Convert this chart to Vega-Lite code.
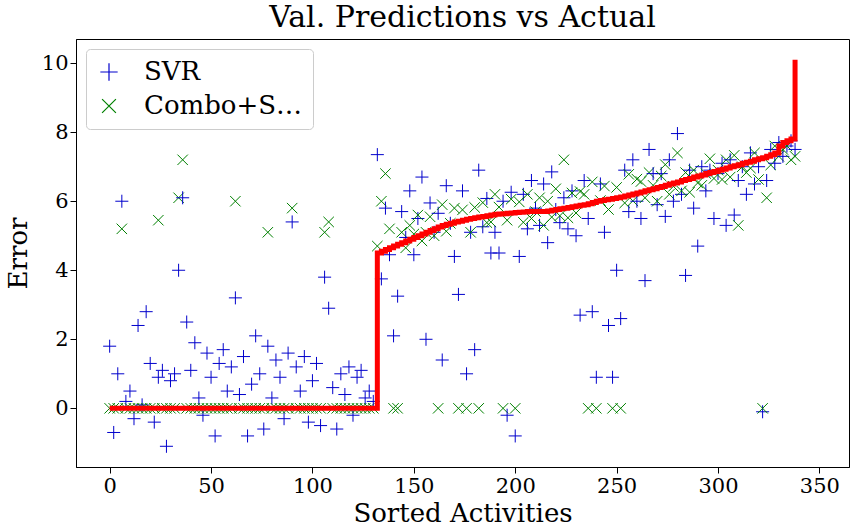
{"$schema":"https://vega.github.io/schema/vega-lite/v6.json","width":861,"height":529,"autosize":{"type":"fit","contains":"padding"},"padding":{"left":5,"right":12,"top":3,"bottom":3},"background":"white","title":{"text":"Val. Predictions vs Actual","font":"DejaVu Serif","fontSize":30,"fontWeight":"normal","color":"black","offset":6},"config":{"font":"DejaVu Serif","view":{"stroke":"black"},"axis":{"grid":false,"domainColor":"black","tickColor":"black","labelFont":"DejaVu Serif","titleFont":"DejaVu Serif","labelFontSize":21,"titleFontSize":26,"titleFontWeight":"normal","labelColor":"black","titleColor":"black","tickSize":6}},
"data":{"values":[
{"x":0,"a":0,"s":1.8,"c":0},{"x":2,"a":0,"s":-0.7,"c":0},{"x":4,"a":0,"s":1.0,"c":0},{"x":6,"a":0,"s":6.0,"c":5.2},{"x":8,"a":0,"s":0.2,"c":0},{"x":10,"a":0,"s":0.5,"c":0},{"x":12,"a":0,"s":-0.3,"c":0},{"x":14,"a":0,"s":2.4,"c":0},{"x":16,"a":0,"s":0.1,"c":0},{"x":18,"a":0,"s":2.8,"c":0},{"x":20,"a":0,"s":1.3,"c":0},{"x":22,"a":0,"s":-0.4,"c":0},{"x":24,"a":0,"s":0.9,"c":5.45},{"x":26,"a":0,"s":1.1,"c":0},{"x":28,"a":0,"s":-1.1,"c":0},{"x":30,"a":0,"s":0.8,"c":0},{"x":32,"a":0,"s":1.0,"c":0},{"x":34,"a":0,"s":4.0,"c":6.1},{"x":36,"a":0,"s":6.1,"c":7.2},{"x":38,"a":0,"s":2.5,"c":0},{"x":40,"a":0,"s":1.1,"c":0},{"x":42,"a":0,"s":1.9,"c":0},{"x":44,"a":0,"s":0.3,"c":0},{"x":46,"a":0,"s":-0.2,"c":0},{"x":48,"a":0,"s":1.6,"c":0},{"x":50,"a":0,"s":0.9,"c":0},{"x":52,"a":0,"s":-0.8,"c":0},{"x":54,"a":0,"s":1.3,"c":0},{"x":56,"a":0,"s":1.7,"c":0},{"x":58,"a":0,"s":0.5,"c":0},{"x":60,"a":0,"s":1.2,"c":0},{"x":62,"a":0,"s":3.2,"c":6.0},{"x":64,"a":0,"s":0.4,"c":0},{"x":66,"a":0,"s":1.5,"c":0},{"x":68,"a":0,"s":-0.8,"c":0},{"x":70,"a":0,"s":0.7,"c":0},{"x":72,"a":0,"s":2.1,"c":0},{"x":74,"a":0,"s":1.0,"c":0},{"x":76,"a":0,"s":-0.6,"c":0},{"x":78,"a":0,"s":1.8,"c":5.1},{"x":80,"a":0,"s":0.3,"c":0},{"x":82,"a":0,"s":1.4,"c":0},{"x":84,"a":0,"s":0.9,"c":0},{"x":86,"a":0,"s":-0.3,"c":0},{"x":88,"a":0,"s":1.6,"c":0},{"x":90,"a":0,"s":5.4,"c":5.8},{"x":92,"a":0,"s":1.2,"c":0},{"x":94,"a":0,"s":0.5,"c":0},{"x":96,"a":0,"s":1.5,"c":0},{"x":98,"a":0,"s":-0.4,"c":0},{"x":100,"a":0,"s":0.8,"c":0},{"x":102,"a":0,"s":1.3,"c":0},{"x":104,"a":0,"s":-0.5,"c":0},{"x":106,"a":0,"s":3.8,"c":5.1},{"x":108,"a":0,"s":2.9,"c":5.4},{"x":110,"a":0,"s":0.6,"c":0},{"x":112,"a":0,"s":-0.6,"c":0},{"x":114,"a":0,"s":1.0,"c":0},{"x":116,"a":0,"s":0.4,"c":0},{"x":118,"a":0,"s":1.2,"c":0},{"x":120,"a":0,"s":-0.2,"c":0},{"x":122,"a":0,"s":0.9,"c":0},{"x":124,"a":0,"s":1.1,"c":0},{"x":126,"a":0,"s":0.3,"c":0},{"x":128,"a":0,"s":0.5,"c":0},{"x":130,"a":0,"s":0.2,"c":0},
{"x":132,"a":4.5,"s":7.35,"c":4.7},{"x":134,"a":4.55,"s":3.75,"c":6.0},{"x":136,"a":4.6,"s":5.8,"c":6.8},{"x":138,"a":4.65,"s":4.45,"c":5.2},{"x":140,"a":4.7,"s":2.1,"c":0},{"x":142,"a":4.75,"s":3.25,"c":0},{"x":144,"a":4.8,"s":5.7,"c":5.1},{"x":146,"a":4.85,"s":4.95,"c":4.65},{"x":148,"a":4.9,"s":6.3,"c":5.3},{"x":150,"a":4.95,"s":4.45,"c":5.05},{"x":152,"a":5.0,"s":5.5,"c":5.6},{"x":154,"a":5.05,"s":6.7,"c":4.85},{"x":156,"a":5.1,"s":2.0,"c":5.1},{"x":158,"a":5.15,"s":5.95,"c":5.55},{"x":160,"a":5.2,"s":5.1,"c":5.0},{"x":162,"a":5.25,"s":5.65,"c":0},{"x":164,"a":5.3,"s":1.4,"c":5.9},{"x":166,"a":5.33,"s":6.45,"c":5.13},{"x":168,"a":5.36,"s":5.36,"c":5.36},{"x":170,"a":5.4,"s":4.4,"c":5.8},{"x":172,"a":5.42,"s":3.3,"c":0},{"x":174,"a":5.45,"s":6.3,"c":5.75},{"x":176,"a":5.48,"s":1.0,"c":0},{"x":178,"a":5.5,"s":5.1,"c":5.1},{"x":180,"a":5.52,"s":1.7,"c":5.82},{"x":182,"a":5.54,"s":6.9,"c":0},{"x":184,"a":5.56,"s":5.26,"c":5.96},{"x":186,"a":5.58,"s":6.08,"c":5.38},{"x":188,"a":5.6,"s":4.5,"c":5.4},{"x":190,"a":5.62,"s":5.1,"c":6.2},{"x":192,"a":5.63,"s":4.5,"c":5.83},{"x":194,"a":5.64,"s":6.0,"c":0},{"x":196,"a":5.65,"s":-0.2,"c":5.45},{"x":198,"a":5.66,"s":6.26,"c":6.06},{"x":200,"a":5.67,"s":-0.8,"c":0},{"x":202,"a":5.68,"s":4.4,"c":5.98},{"x":204,"a":5.69,"s":6.2,"c":5.39},{"x":206,"a":5.7,"s":5.2,"c":6.2},{"x":208,"a":5.7,"s":6.6,"c":5.5},{"x":210,"a":5.7,"s":5.8,"c":5.7},{"x":212,"a":5.7,"s":5.3,"c":6.1},{"x":214,"a":5.7,"s":6.5,"c":5.3},{"x":216,"a":5.72,"s":4.8,"c":6.0},{"x":218,"a":5.74,"s":6.85,"c":5.54},{"x":220,"a":5.76,"s":5.76,"c":6.36},{"x":222,"a":5.78,"s":5.38,"c":5.58},{"x":224,"a":5.8,"s":6.1,"c":7.2},{"x":226,"a":5.82,"s":5.2,"c":5.52},{"x":228,"a":5.84,"s":6.3,"c":6.24},{"x":230,"a":5.86,"s":5.0,"c":5.66},{"x":232,"a":5.88,"s":2.7,"c":6.28},{"x":234,"a":5.9,"s":6.6,"c":6.2},{"x":236,"a":5.93,"s":5.5,"c":0},{"x":238,"a":5.96,"s":2.8,"c":6.56},{"x":240,"a":6.0,"s":0.9,"c":0},{"x":242,"a":6.02,"s":6.5,"c":6.02},{"x":244,"a":6.04,"s":5.1,"c":6.44},{"x":246,"a":6.06,"s":2.4,"c":5.76},{"x":248,"a":6.08,"s":0.9,"c":0},{"x":250,"a":6.1,"s":4.0,"c":6.4},{"x":252,"a":6.12,"s":2.6,"c":0},{"x":254,"a":6.15,"s":6.9,"c":5.95},{"x":256,"a":6.18,"s":5.7,"c":6.78},{"x":258,"a":6.21,"s":7.2,"c":6.01},{"x":260,"a":6.24,"s":6.0,"c":6.64},{"x":262,"a":6.27,"s":5.5,"c":6.57},{"x":264,"a":6.3,"s":3.7,"c":6.1},{"x":266,"a":6.33,"s":7.5,"c":6.83},{"x":268,"a":6.36,"s":6.8,"c":6.46},{"x":270,"a":6.4,"s":5.9,"c":6.0},{"x":272,"a":6.43,"s":6.8,"c":6.73},{"x":274,"a":6.46,"s":5.56,"c":7.06},{"x":276,"a":6.5,"s":7.2,"c":6.2},{"x":278,"a":6.53,"s":6.0,"c":6.43},{"x":280,"a":6.56,"s":7.96,"c":7.4},{"x":282,"a":6.6,"s":6.2,"c":6.3},{"x":284,"a":6.63,"s":3.85,"c":6.83},{"x":286,"a":6.66,"s":6.9,"c":6.26},{"x":288,"a":6.7,"s":5.8,"c":6.9},{"x":290,"a":6.73,"s":4.7,"c":6.53},{"x":292,"a":6.76,"s":7.0,"c":6.46},{"x":294,"a":6.8,"s":6.3,"c":6.8},{"x":296,"a":6.83,"s":6.9,"c":7.23},{"x":298,"a":6.86,"s":5.5,"c":6.66},{"x":300,"a":6.9,"s":6.8,"c":6.9},{"x":302,"a":6.93,"s":7.1,"c":6.63},{"x":304,"a":6.96,"s":5.3,"c":7.2},{"x":306,"a":7.0,"s":7.2,"c":6.7},{"x":308,"a":7.03,"s":5.6,"c":7.33},{"x":310,"a":7.06,"s":6.6,"c":5.3},{"x":312,"a":7.1,"s":7.0,"c":7.0},{"x":314,"a":7.13,"s":6.2,"c":6.83},{"x":316,"a":7.16,"s":7.4,"c":6.96},{"x":318,"a":7.2,"s":6.5,"c":7.4},{"x":320,"a":7.23,"s":7.0,"c":6.63},{"x":322,"a":7.26,"s":-0.1,"c":0},{"x":324,"a":7.3,"s":6.6,"c":6.1},{"x":326,"a":7.35,"s":7.5,"c":7.05},{"x":328,"a":7.4,"s":7.1,"c":7.6},{"x":330,"a":7.6,"s":7.7,"c":7.3},{"x":332,"a":7.7,"s":7.3,"c":7.5},{"x":334,"a":7.75,"s":7.6,"c":7.6},{"x":336,"a":7.8,"s":7.75,"c":7.2},{"x":338,"a":10.1,"s":7.5,"c":7.3}
]},
"layer":[
{"transform":[{"fold":["s","c"],"as":["k","v"]},{"calculate":"datum.k==='s'?'SVR':'Combo+SVR'","as":"series"}],
"mark":{"type":"point","filled":false,"strokeWidth":1,"size":170,"opacity":1},
"encoding":{"x":{"field":"x","type":"quantitative","scale":{"domain":[-16.6,364.6],"nice":false,"zero":false},"axis":{"values":[0,50,100,150,200,250,300,350],"title":"Sorted Activities","titlePadding":4}},
"y":{"field":"v","type":"quantitative","scale":{"domain":[-1.7,10.7],"nice":false,"zero":false},"axis":{"values":[0,2,4,6,8,10],"title":"Error","titlePadding":10}},
"color":{"field":"series","type":"nominal","scale":{"domain":["SVR","Combo+SVR"],"range":["#0000cc","#008000"]},"legend":{"title":null,"orient":"top-left","offset":10,"labelFontSize":26,"labelFont":"DejaVu Serif","labelColor":"black","labelOffset":22,"symbolSize":300,"symbolStrokeWidth":1.2,"strokeColor":"#cccccc","padding":10,"cornerRadius":4,"rowPadding":8,"fillColor":"white"}},
"shape":{"field":"series","type":"nominal","scale":{"domain":["SVR","Combo+SVR"],"range":["M-1,0L1,0M0,-1L0,1","M-0.8,-0.8L0.8,0.8M0.8,-0.8L-0.8,0.8"]},"legend":null}}},
{"mark":{"type":"line","color":"#ff0000","strokeWidth":5,"interpolate":"step-after"},"encoding":{"x":{"field":"x","type":"quantitative"},"y":{"field":"a","type":"quantitative"}}}
]}
